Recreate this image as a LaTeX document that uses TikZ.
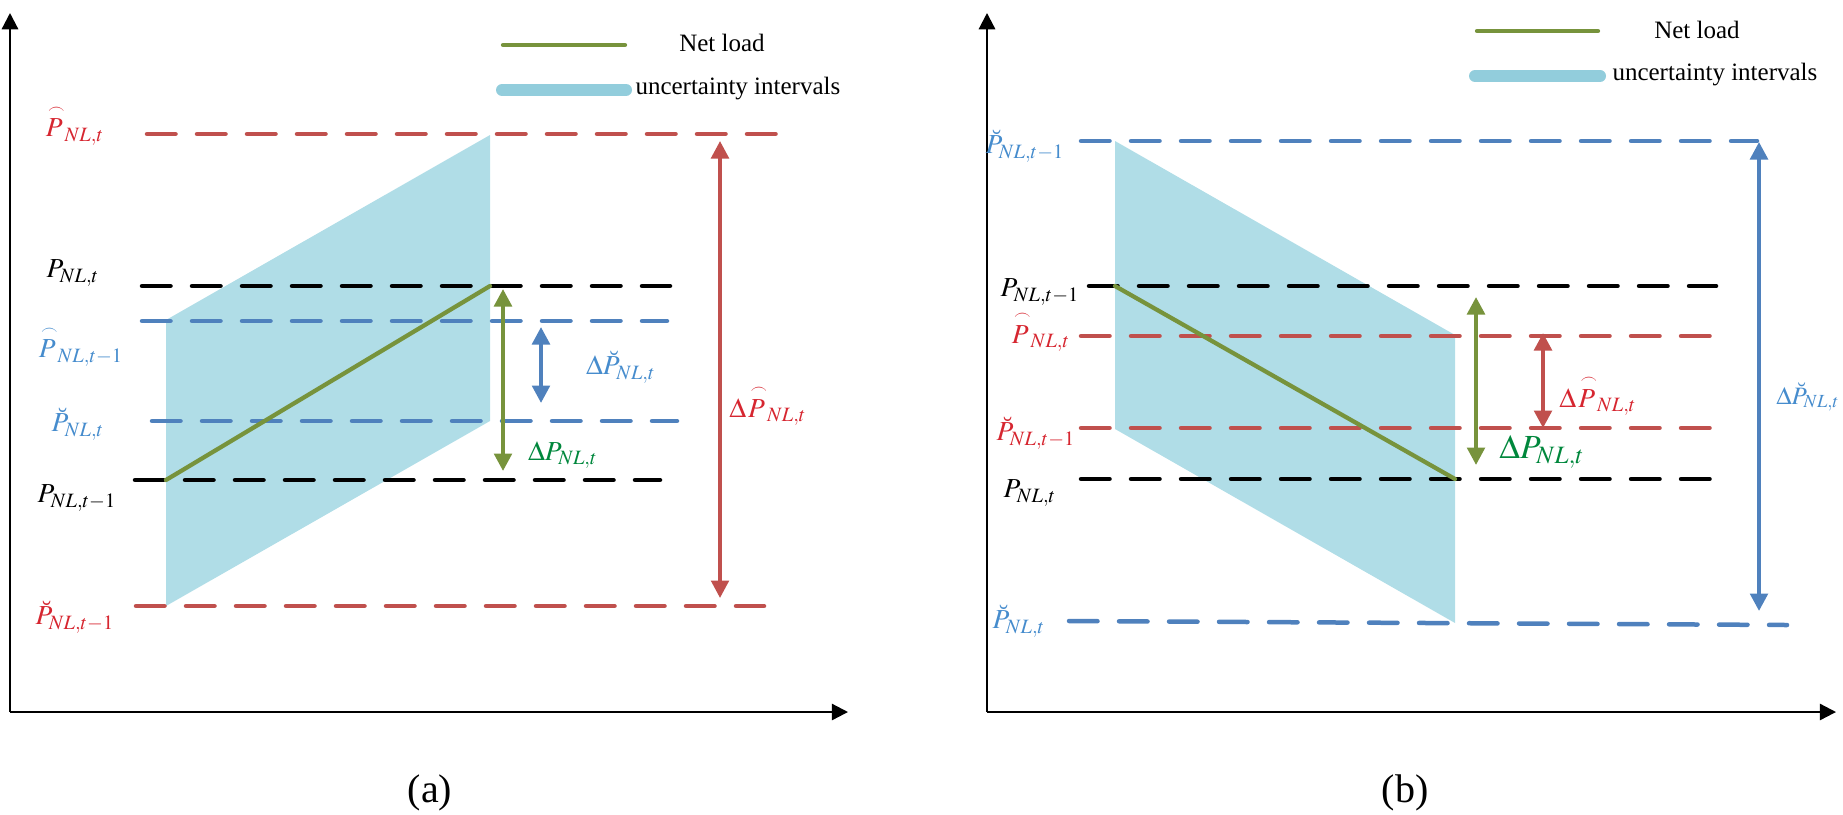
\documentclass[tikz,border=0pt]{standalone}
\usepackage{amsmath}
\usepackage{mathptmx}
\usepackage{fontspec}
\setmainfont{Liberation Serif}
\usetikzlibrary{arrows.meta}
\definecolor{redL}{RGB}{192,80,77}
\definecolor{redT}{RGB}{214,38,48}
\definecolor{blueL}{RGB}{79,129,189}
\definecolor{blueT}{RGB}{70,140,205}
\definecolor{greenL}{RGB}{119,147,60}
\definecolor{greenT}{RGB}{0,135,60}
\definecolor{fillc}{RGB}{176,221,231}
\definecolor{legblue}{RGB}{146,205,220}
\newcommand{\arcP}{\overset{\mkern4mu\scriptscriptstyle\frown}{P}}
\newcommand{\cupP}{\breve{P}}
\begin{document}
\begin{tikzpicture}[x=0.4pt,y=-0.4pt,
  lvl/.style={line width=1.8pt, dash pattern=on 11.4pt off 8.6pt, line cap=round},
  axis/.style={line width=0.9pt, -{Triangle[length=6.5pt,width=6.5pt]}},
  dbl/.style={line width=1.6pt, {Triangle[length=7pt,width=7pt]}-{Triangle[length=7pt,width=7pt]}},
  lab/.style={font=\fontsize{11}{13}\selectfont, inner sep=0pt},
  legtxt/.style={font=\fontsize{10}{12}\selectfont, inner sep=0pt},
  captxt/.style={font=\fontsize{16}{18}\selectfont, inner sep=0pt},
  netline/.style={greenL, line width=1.7pt, line cap=round},
  uncline/.style={legblue, line width=4.8pt, line cap=round}]
\useasboundingbox (0,0) rectangle (1843,814);

% ================= panel (a) =================
\coordinate (aO) at (10,712);
\coordinate (aY) at (10,13);
\coordinate (aX) at (848,712);
\draw[axis] (aO) -- (aY);
\draw[axis] (aO) -- (aX);

% legend
\draw[netline] (503,45) -- (625,45);
\node[legtxt] (aleg1) at (722,43) {Net load};
\draw[uncline] (502,90) -- (626,90);
\node[legtxt, anchor=west] (aleg2) at (635,89) {uncertainty intervals};

% uncertainty region
\fill[fillc] (166,320) -- (490,135) -- (490,421) -- (166,606) -- cycle;

% levels
\draw[lvl,redL] (147,134) -- (797,134);
\draw[lvl,black] (142,286) -- (670,286);
\draw[lvl,blueL] (142,321) -- (667,321);
\draw[lvl,blueL] (152,421) -- (677,421);
\draw[lvl,black] (135,480) -- (660,480);
\draw[lvl,redL] (136,606) -- (764,606);

% net load
\coordinate (aN1) at (166,480);
\coordinate (aN2) at (490,286);
\draw[netline] (aN1) -- (aN2);

% labels
\node[lab,redT] (aL1) at (74,125) {$\arcP_{NL,t}$};
\node[lab,black] (aL2) at (73,273) {$P_{NL,t}$};
\node[lab,blueT] (aL3) at (80,346) {$\arcP_{NL,t-1}$};
\node[lab,blueT] (aL4) at (78,424) {$\cupP_{NL,t}$};
\node[lab,black] (aL5) at (77,498) {$P_{NL,t-1}$};
\node[lab,redT] (aL6) at (75,617) {$\cupP_{NL,t-1}$};

% difference arrows
\coordinate (aG1) at (503,289);
\coordinate (aG2) at (503,471);
\draw[dbl,greenL] (aG1) -- (aG2);
\coordinate (aB1) at (541,327);
\coordinate (aB2) at (541,403);
\draw[dbl,blueL] (aB1) -- (aB2);
\coordinate (aR1) at (720,141);
\coordinate (aR2) at (720,598);
\draw[dbl,redL,line width=1.5pt] (aR1) -- (aR2);

\node[lab,blueT] (aD1) at (621,367) {$\Delta\cupP_{NL,t}$};
\node[lab,greenT] (aD2) at (563,455) {$\Delta P_{NL,t}$};
\node[lab,redT] (aD3) at (768,405) {$\Delta\arcP_{NL,t}$};

\node[captxt] (capa) at (430,793) {(a)};

% ================= panel (b) =================
\coordinate (bO) at (987,712);
\coordinate (bY) at (987,13);
\coordinate (bX) at (1836,712);
\draw[axis] (bO) -- (bY);
\draw[axis] (bO) -- (bX);

% legend
\draw[netline] (1477,31) -- (1598,31);
\node[legtxt] (bleg1) at (1697,30) {Net load};
\draw[uncline] (1475,76) -- (1600,76);
\node[legtxt, anchor=west] (bleg2) at (1612,75) {uncertainty intervals};

% uncertainty region
\fill[fillc] (1115,141) -- (1455,335) -- (1455,623) -- (1115,429) -- cycle;

% levels
\draw[lvl,blueL] (1081,141) -- (1757,141);
\draw[lvl,black] (1089,286) -- (1716,286);
\draw[lvl,redL] (1081,336) -- (1728,336);
\draw[lvl,redL] (1081,428) -- (1722,428);
\draw[lvl,black] (1081,479) -- (1722,479);
\draw[lvl,blueL] (1069,621) -- (1787,625);

% net load
\coordinate (bN1) at (1115,286);
\coordinate (bN2) at (1455,479);
\draw[netline] (bN1) -- (bN2);

% labels
\node[lab,blueT] (bL1) at (1025,146) {$\cupP_{NL,t-1}$};
\node[lab,black] (bL2) at (1040,292) {$P_{NL,t-1}$};
\node[lab,redT] (bL3) at (1040,331) {$\arcP_{NL,t}$};
\node[lab,redT] (bL4) at (1036,433) {$\cupP_{NL,t-1}$};
\node[lab,black] (bL5) at (1030,493) {$P_{NL,t}$};
\node[lab,blueT] (bL6) at (1019,621) {$\cupP_{NL,t}$};

% difference arrows
\coordinate (bG1) at (1476,297);
\coordinate (bG2) at (1476,465);
\draw[dbl,greenL] (bG1) -- (bG2);
\coordinate (bR1) at (1543,333);
\coordinate (bR2) at (1543,428);
\draw[dbl,redL] (bR1) -- (bR2);
\coordinate (bB1) at (1759,142);
\coordinate (bB2) at (1759,611);
\draw[dbl,blueL] (bB1) -- (bB2);

\node[lab,redT] (bD1) at (1598,395) {$\Delta\arcP_{NL,t}$};
\node[lab,greenT,font=\fontsize{13.5}{15}\selectfont] (bD2) at (1542,452) {$\Delta P_{NL,t}$};
\node[lab,blueT,font=\fontsize{10}{12}\selectfont] (bD3) at (1808,397) {$\Delta\cupP_{NL,t}$};

\node[captxt] (capb) at (1405,793) {(b)};
\end{tikzpicture}
\end{document}
